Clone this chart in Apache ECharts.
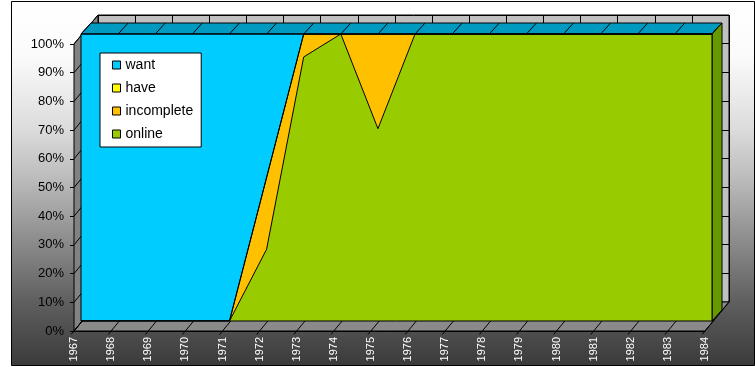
<!DOCTYPE html>
<html>
<head>
<meta charset="utf-8">
<script src="https://cdn.jsdelivr.net/npm/echarts@6/dist/echarts.min.js"></script>
<style>
html,body{margin:0;padding:0;background:#fff;}
#c{width:755px;height:367px;}
</style>
</head>
<body>
<div id="c"></div>
<script>
// ---- data ----
const categories = ['1967','1968','1969','1970','1971','1972','1973','1974','1975','1976','1977','1978','1979','1980','1981','1982','1983','1984'];
const want       = [100,100,100,100,100,50,0,0,0,0,0,0,0,0,0,0,0,0];
const have       = [0,0,0,0,0,0,0,0,0,0,0,0,0,0,0,0,0,0];
const incomplete = [0,0,0,0,0,25,8,0,33,0,0,0,0,0,0,0,0,0];
const online     = [0,0,0,0,0,25,92,100,67,100,100,100,100,100,100,100,100,100];
const yTicks = [0,10,20,30,40,50,60,70,80,90,100];

// ---- layout ----
const AX = {left:74, top:44, width:631, height:287};
const DF = [7,-10], DB = [17,-21], DW = [24,-29];
const FONT = 'Liberation Sans, Arial, sans-serif';
const last = categories.length - 1;

function add(p, d, k){ k = k===undefined?1:k; return [p[0]+d[0]*k, p[1]+d[1]*k]; }

const chart = echarts.init(document.getElementById('c'), null, {renderer:'canvas'});

function gridAt(d){ return {left:AX.left+d[0], top:AX.top+d[1], width:AX.width, height:AX.height}; }

const hiddenX = (gi, split) => ({type:'category', gridIndex:gi, data:categories, boundaryGap:false,
  axisLine:{show:false}, axisTick:{show:false}, axisLabel:{show:false},
  splitLine:{show:!!split, lineStyle:{color:'#000', width:1}}});
const hiddenY = (gi, split) => ({type:'value', gridIndex:gi, min:0, max:100, interval:10,
  axisLine:{show:false}, axisTick:{show:false}, axisLabel:{show:false},
  splitLine:{show:!!split, lineStyle:{color:'#000', width:1}}});

const areaSeries = (name, data, color) => ({
  name, type:'line', xAxisIndex:2, yAxisIndex:2, stack:'s', data,
  symbol:'none', z:5,
  lineStyle:{color:'#000', width:1},
  itemStyle:{color, borderColor:'#000', borderWidth:1},
  areaStyle:{color, opacity:1},
  emphasis:{disabled:true}
});

const option = {
  animation:false,
  backgroundColor:'#fff',
  graphic:[{
    type:'rect', z:-100, silent:true,
    shape:{x:11.5, y:1.5, width:743, height:364},
    style:{
      fill:{type:'linear', x:0, y:0, x2:0, y2:1, colorStops:[
        {offset:0, color:'#ffffff'},{offset:0.15, color:'#fbfbfb'},{offset:0.35, color:'#dcdcdc'},
        {offset:0.5, color:'#b8b8b8'},{offset:0.65, color:'#8e8e8e'},{offset:0.82, color:'#606060'},
        {offset:1, color:'#3a3a3a'}]},
      stroke:'#000', lineWidth:1
    }
  }],
  legend:{
    z:20, zlevel:0,
    orient:'vertical', left:100, top:53,
    data:['want','have','incomplete','online'],
    backgroundColor:'#fff', borderColor:'#000', borderWidth:1,
    padding:[5,8,6,12], itemGap:9, itemWidth:8, itemHeight:8, icon:'rect',
    itemStyle:{borderColor:'#000', borderWidth:1},
    textStyle:{fontFamily:FONT, fontSize:14, color:'#000'},
    selectedMode:false
  },
  grid:[
    Object.assign({show:false}, gridAt([0,0])),
    Object.assign({show:true, backgroundColor:'#c0c0c0', borderColor:'#000', borderWidth:1}, gridAt(DW)),
    Object.assign({show:false}, gridAt(DF))
  ],
  xAxis:[
    {type:'category', gridIndex:0, data:categories, boundaryGap:false,
     axisLine:{show:true, lineStyle:{color:'#000', width:1}}, axisTick:{show:false},
     axisLabel:{rotate:90, color:'#fff', fontFamily:FONT, fontSize:11, margin:6, interval:0},
     splitLine:{show:false}},
    hiddenX(1, true),
    hiddenX(2, false)
  ],
  yAxis:[
    {type:'value', gridIndex:0, min:0, max:100, interval:10,
     axisLine:{show:true, lineStyle:{color:'#000', width:1}},
     axisTick:{show:true, length:4, lineStyle:{color:'#000'}},
     axisLabel:{formatter:'{value}%', color:'#000', fontFamily:FONT, fontSize:13, margin:10},
     splitLine:{show:false}},
    hiddenY(1, true),
    hiddenY(2, false)
  ],
  series:[
    // walls, floor, and the depth faces of the area block
    {type:'custom', xAxisIndex:0, yAxisIndex:0, z:1, silent:true, data:[[0]],
     renderItem:function(params, api){
       const p = (i,v) => api.coord([i,v]);
       const ch = [];
       const b0 = p(0,0), bN = p(last,0), t0 = p(0,100), tN = p(last,100);
       ch.push({type:'polygon', shape:{points:[b0,bN,add(bN,DW),add(b0,DW)]},
                style:{fill:'#8a8a8a', stroke:'#000', lineWidth:1}});
       ch.push({type:'polygon', shape:{points:[b0,t0,add(t0,DW),add(b0,DW)]},
                style:{fill:'#828282', stroke:'#000', lineWidth:1}});
       yTicks.forEach(v => { const q = p(0,v);
         ch.push({type:'line', shape:{x1:q[0], y1:q[1], x2:q[0]+DW[0], y2:q[1]+DW[1]}, style:{stroke:'#000', lineWidth:1}}); });
       categories.forEach((c,i) => { const q = p(i,0); const s = add(q,DW,-0.12);
         ch.push({type:'line', shape:{x1:s[0], y1:s[1], x2:q[0]+DW[0], y2:q[1]+DW[1]}, style:{stroke:'#000', lineWidth:1}}); });
       const f0 = add(t0,DF), fN = add(tN,DF);
       ch.push({type:'polygon', shape:{points:[f0,fN,add(tN,DB),add(t0,DB)]},
                style:{fill:'#0099c0', stroke:'#000', lineWidth:1}});
       categories.forEach((c,i) => { const q = p(i,100);
         const a = add(q,DF), e = add(q,DB);
         ch.push({type:'line', shape:{x1:a[0], y1:a[1], x2:e[0], y2:e[1]}, style:{stroke:'#000', lineWidth:1}}); });
       const r0 = add(bN,DF);
       ch.push({type:'polygon', shape:{points:[r0,fN,add(tN,DB),add(bN,DB)]},
                style:{fill:'#669900', stroke:'#000', lineWidth:1}});
       return {type:'group', children:ch};
     }},
    areaSeries('online', online, '#99cc00'),
    areaSeries('incomplete', incomplete, '#ffc000'),
    areaSeries('have', have, '#ffff00'),
    areaSeries('want', want, '#00ccff'),
    {type:'custom', xAxisIndex:2, yAxisIndex:2, z:6, silent:true, data:[[0]],
     renderItem:function(params, api){
       const a = api.coord([0,0]), b = api.coord([last,100]);
       return {type:'rect', shape:{x:a[0], y:b[1], width:b[0]-a[0], height:a[1]-b[1]},
               style:{fill:null, stroke:'#000', lineWidth:1}};
     }}
  ]
};
chart.setOption(option);
</script>
</body>
</html>
